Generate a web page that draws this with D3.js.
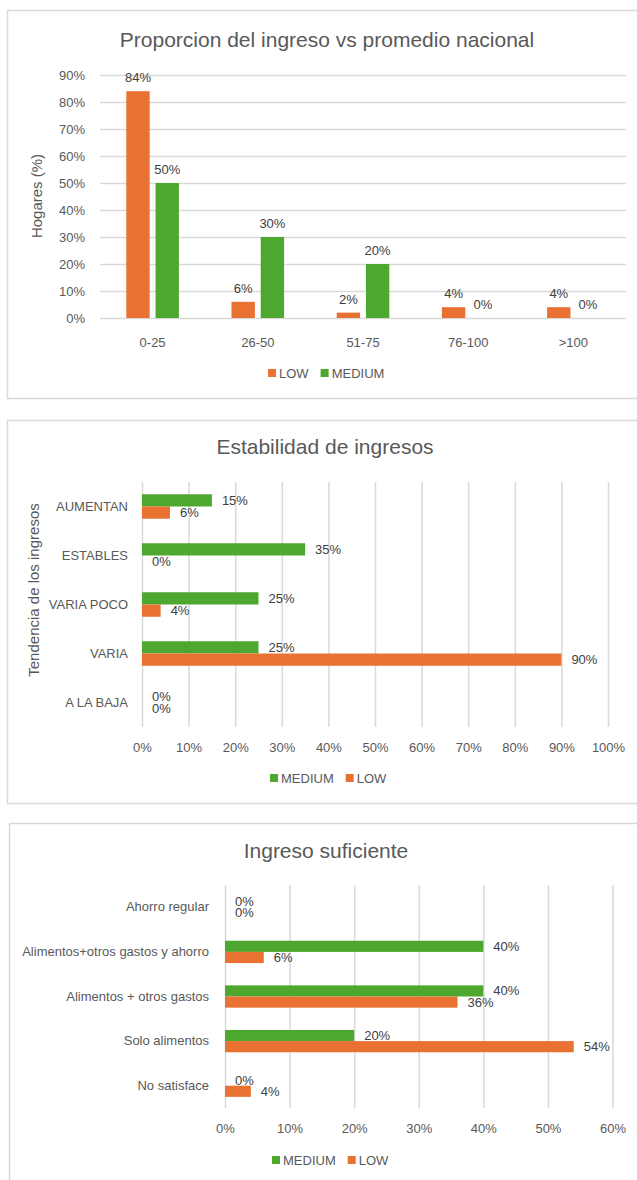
<!DOCTYPE html>
<html>
<head>
<meta charset="utf-8">
<script src="https://cdn.jsdelivr.net/npm/d3@7"></script>
<style>
  body { margin: 0; background: #fff; }
  text { font-family: "Liberation Sans", Arial, sans-serif; fill: #595959; }
</style>
</head>
<body>
<div id="chart_area"></div>
<script>
// chart 1 data
var catsIngreso = ["0-25", "26-50", "51-75", "76-100", ">100"];
var lowIngreso = [84, 6, 2, 4, 4];
var medIngreso = [50, 30, 20, 0, 0];
var ticksIngreso = [0, 10, 20, 30, 40, 50, 60, 70, 80, 90];

// chart 2 data
var catsEstab = ["AUMENTAN", "ESTABLES", "VARIA POCO", "VARIA", "A LA BAJA"];
var medEstab = [15, 35, 25, 25, 0];
var lowEstab = [6, 0, 4, 90, 0];
var ticksEstab = [0, 10, 20, 30, 40, 50, 60, 70, 80, 90, 100];

// chart 3 data
var catsSufic = ["Ahorro regular", "Alimentos+otros gastos y ahorro", "Alimentos + otros gastos", "Solo alimentos", "No satisface"];
var medSufic = [0, 40, 40, 20, 0];
var lowSufic = [0, 6, 36, 54, 4];
var ticksSufic = [0, 10, 20, 30, 40, 50, 60];

var ORANGE = "#E97132", GREEN = "#4EA72E", GRID = "#D9D9D9";

var svg = d3.select("#chart_area")
    .append("svg")
    .attr("width", 637)
    .attr("height", 1180);

function frame(x, y, h) {
    svg.append("rect")
        .attr("x", x).attr("y", y)
        .attr("width", 700).attr("height", h)
        .attr("fill", "#fff")
        .attr("stroke", GRID)
        .attr("stroke-width", 1.5);
}

function title(txt, cx, y) {
    svg.append("text")
        .attr("x", cx).attr("y", y)
        .attr("text-anchor", "middle")
        .style("font-size", "21px")
        .text(txt);
}

function legend(items, x, y) {
    var g = svg.append("g").attr("transform", "translate(" + x + "," + y + ")");
    var cx = 0;
    items.forEach(function (it) {
        g.append("rect").attr("x", cx).attr("y", -4).attr("width", 8).attr("height", 8).attr("fill", it.color);
        var t = g.append("text").attr("x", cx + 11).attr("y", 5).style("font-size", "13px").text(it.name);
        cx += 11 + t.node().getComputedTextLength() + 12;
    });
}

// ---------- chart 1: vertical grouped bars ----------
frame(7.5, 10.5, 388);
title("Proporcion del ingreso vs promedio nacional", 327, 47);

var series1 = [
    { name: "LOW", color: ORANGE, values: lowIngreso },
    { name: "MEDIUM", color: GREEN, values: medIngreso }
];

var x0 = d3.scaleBand()
    .domain(catsIngreso)
    .range([100, 626])
    .paddingInner(0.5)
    .paddingOuter(0.25);
var x1 = d3.scaleBand()
    .domain(series1.map(function (s) { return s.name; }))
    .range([0, x0.bandwidth()])
    .paddingInner(0.2);
var y1 = d3.scaleLinear().domain([0, 90]).range([318, 75]);

// gridlines
svg.append("g")
    .attr("transform", "translate(100,0)")
    .call(d3.axisLeft(y1).tickValues(ticksIngreso).tickSize(-526).tickFormat(function (d) { return d + "%"; }))
    .call(function (g) {
        g.select(".domain").remove();
        g.selectAll("line").attr("stroke", GRID).attr("stroke-width", 1.5);
        g.selectAll("text").attr("x", -15).style("font-size", "13px").style("fill", "#595959");
    });

// x axis labels
svg.append("g")
    .attr("transform", "translate(0,318)")
    .call(d3.axisBottom(x0).tickSize(0).tickPadding(20))
    .call(function (g) {
        g.select(".domain").remove();
        g.selectAll("text").style("font-size", "13px").style("fill", "#595959");
    });

svg.append("text")
    .attr("transform", "translate(42,196)rotate(-90)")
    .attr("text-anchor", "middle")
    .style("font-size", "15px")
    .text("Hogares (%)");

series1.forEach(function (s) {
    var g = svg.append("g");
    g.selectAll("rect")
        .data(s.values)
        .enter()
        .append("rect")
        .attr("x", function (d, i) { return x0(catsIngreso[i]) + x1(s.name); })
        .attr("width", x1.bandwidth())
        .attr("y", function (d) { return y1(d); })
        .attr("height", function (d) { return y1(0) - y1(d); })
        .attr("fill", s.color);
    g.selectAll("text")
        .data(s.values)
        .enter()
        .append("text")
        .attr("x", function (d, i) { return x0(catsIngreso[i]) + x1(s.name) + x1.bandwidth() / 2; })
        .attr("y", function (d) { return y1(d) - 9; })
        .attr("text-anchor", "middle")
        .style("font-size", "13px")
        .style("fill", "#404040")
        .text(function (d) { return d + "%"; });
});

legend(series1, 268, 373);

// ---------- horizontal grouped bars ----------
function drawHBars(opts) {
    var x = d3.scaleLinear().domain([0, opts.max]).range([opts.left, opts.right]);
    var y0 = d3.scaleBand()
        .domain(opts.cats)
        .range([opts.top, opts.bottom])
        .paddingInner(0.5)
        .paddingOuter(0.25);
    var yi = d3.scaleBand()
        .domain(opts.series.map(function (s) { return s.name; }))
        .range([0, y0.bandwidth()]);

    // vertical gridlines + tick labels
    svg.append("g")
        .attr("transform", "translate(0," + opts.bottom + ")")
        .call(d3.axisBottom(x).tickValues(opts.ticks).tickSize(-(opts.bottom - opts.top)).tickPadding(16)
            .tickFormat(function (d) { return d + "%"; }))
        .call(function (g) {
            g.select(".domain").remove();
            g.selectAll("line").attr("stroke", GRID).attr("stroke-width", 1.5);
            g.selectAll("text").style("font-size", "13px").style("fill", "#595959");
        });

    // category labels
    svg.append("g")
        .attr("transform", "translate(" + opts.left + ",0)")
        .call(d3.axisLeft(y0).tickSize(0).tickPadding(opts.left - opts.labelRight))
        .call(function (g) {
            g.select(".domain").remove();
            g.selectAll("text").style("font-size", "13px").style("fill", "#595959");
        });

    opts.series.forEach(function (s) {
        var g = svg.append("g");
        g.selectAll("rect")
            .data(s.values)
            .enter()
            .append("rect")
            .attr("x", x(0))
            .attr("y", function (d, i) { return y0(opts.cats[i]) + yi(s.name); })
            .attr("width", function (d) { return x(d) - x(0); })
            .attr("height", yi.bandwidth())
            .attr("fill", s.color);
        g.selectAll("text")
            .data(s.values)
            .enter()
            .append("text")
            .attr("x", function (d) { return x(d) + 10; })
            .attr("y", function (d, i) { return y0(opts.cats[i]) + yi(s.name) + yi.bandwidth() / 2; })
            .attr("dy", "0.35em")
            .style("font-size", "13px")
            .style("fill", "#404040")
            .text(function (d) { return d + "%"; });
    });
}

// ---------- chart 2 ----------
frame(7.5, 420.5, 383);
title("Estabilidad de ingresos", 325, 454);
drawHBars({
    cats: catsEstab,
    series: [
        { name: "MEDIUM", color: GREEN, values: medEstab },
        { name: "LOW", color: ORANGE, values: lowEstab }
    ],
    max: 100, ticks: ticksEstab,
    left: 142, right: 608, top: 482, bottom: 727, labelRight: 128
});
svg.append("text")
    .attr("transform", "translate(39,590)rotate(-90)")
    .attr("text-anchor", "middle")
    .style("font-size", "15px")
    .text("Tendencia de los ingresos");
legend([{ name: "MEDIUM", color: GREEN }, { name: "LOW", color: ORANGE }], 270, 778);

// ---------- chart 3 ----------
frame(9.5, 823.5, 400);
title("Ingreso suficiente", 326, 858);
drawHBars({
    cats: catsSufic,
    series: [
        { name: "MEDIUM", color: GREEN, values: medSufic },
        { name: "LOW", color: ORANGE, values: lowSufic }
    ],
    max: 60, ticks: ticksSufic,
    left: 225, right: 612.5, top: 885, bottom: 1108, labelRight: 209
});
legend([{ name: "MEDIUM", color: GREEN }, { name: "LOW", color: ORANGE }], 272, 1160);
</script>
</body>
</html>
